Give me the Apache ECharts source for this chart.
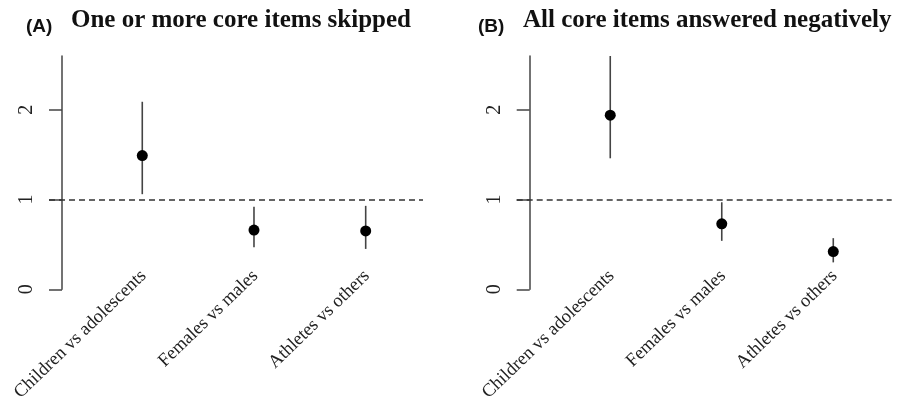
<!DOCTYPE html>
<html>
<head>
<meta charset="utf-8">
<script src="https://cdn.jsdelivr.net/npm/echarts@6/dist/echarts.min.js"></script>
<style>html,body{margin:0;padding:0;background:#fff}#c{width:900px;height:404px}</style>
</head>
<body>
<div id="c"></div>
<script>
const categories = ['Children vs adolescents', 'Females vs males', 'Athletes vs others'];
const positions = [1, 2, 3];
const panelLetters = ['(A)', '(B)'];
const panelTitles = ['One or more core items skipped', 'All core items answered negatively'];
const yTicks = [0, 1, 2];
const refValue = 1;

const estA = [1.49, 0.66, 0.65];
const lowA = [1.06, 0.47, 0.45];
const highA = [2.09, 0.92, 0.93];

const estB = [1.94, 0.73, 0.42];
const lowB = [1.46, 0.54, 0.30];
const highB = [2.60, 0.97, 0.57];

const panels = [
  {est: estA, low: lowA, high: highA, left: 49, width: 374, xmin: 0.165, xmax: 3.513, lmin: 0.154, lmax: 3.502, letterX: 26, titleX: 71},
  {est: estB, low: lowB, high: highB, left: 516.7, width: 375, xmin: 0.161, xmax: 3.524, lmin: 0.150, lmax: 3.513, letterX: 478, titleX: 523}
];

const serif = '"Liberation Serif", "Times New Roman", serif';
const sans = '"Liberation Sans", Arial, sans-serif';

const option = {
  animation: false,
  backgroundColor: '#fff',
  title: [],
  grid: [],
  xAxis: [],
  yAxis: [],
  series: []
};

panels.forEach((p, i) => {
  option.title.push({
    text: panelLetters[i], left: p.letterX, top: 17, padding: 0,
    textStyle: {fontFamily: sans, fontWeight: 'bold', fontSize: 19, color: '#111'}
  });
  option.title.push({
    text: panelTitles[i], left: p.titleX, top: 8, padding: 0,
    textStyle: {fontFamily: serif, fontWeight: 'bold', fontSize: 25, color: '#111'}
  });
  option.grid.push({left: p.left, width: p.width, top: 56, height: 233.3, containLabel: false, outerBoundsMode: 'none'});
  option.xAxis.push({
    type: 'value', gridIndex: i, min: p.xmin, max: p.xmax, show: false
  });
  option.xAxis.push({
    type: 'value', gridIndex: i, min: p.lmin, max: p.lmax, position: 'bottom',
    axisLine: {show: false}, axisTick: {show: false}, splitLine: {show: false},
    axisLabel: {
      customValues: positions, rotate: 44, margin: -16,
      fontFamily: serif, fontSize: 18.5, color: '#222',
      formatter: v => categories[positions.indexOf(Math.round(v))] || ''
    }
  });
  option.yAxis.push({
    type: 'value', gridIndex: i, min: 0, max: 2.6, offset: -13,
    axisLine: {show: true, lineStyle: {color: '#444', width: 1.5}},
    axisTick: {show: true, length: 13, customValues: yTicks, lineStyle: {color: '#444', width: 1.5}},
    splitLine: {show: false},
    axisLabel: {customValues: yTicks, rotate: 90, margin: 25, fontFamily: serif, fontSize: 20, color: '#222'}
  });
  const ciData = positions.map((x, k) => [x, p.low[k], p.high[k]]);
  option.series.push({
    type: 'custom', xAxisIndex: i * 2, yAxisIndex: i, data: ciData, silent: true,
    renderItem: (params, api) => {
      const a = api.coord([api.value(0), api.value(1)]);
      const b = api.coord([api.value(0), api.value(2)]);
      return {type: 'line', shape: {x1: a[0], y1: a[1], x2: b[0], y2: b[1]},
        style: {stroke: '#444', lineWidth: 1.6}};
    }
  });
  option.series.push({
    type: 'scatter', xAxisIndex: i * 2, yAxisIndex: i,
    data: positions.map((x, k) => [x, p.est[k]]),
    symbol: 'circle', symbolSize: 11, itemStyle: {color: '#000', opacity: 1}, silent: true,
    markLine: {
      silent: true, symbol: 'none', label: {show: false},
      lineStyle: {type: [6, 4], color: '#333', width: 1.5},
      data: [{yAxis: refValue}]
    }
  });
});

const chart = echarts.init(document.getElementById('c'), null, {renderer: 'canvas'});
chart.setOption(option);
</script>
</body>
</html>
